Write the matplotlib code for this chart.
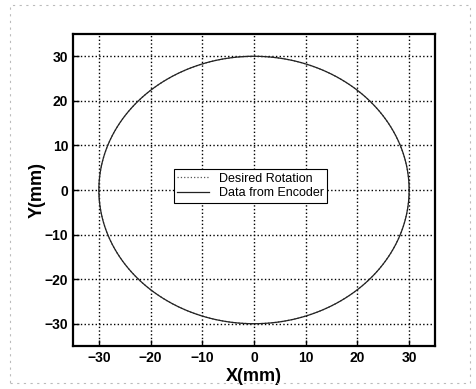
import numpy as np
import matplotlib
matplotlib.use("Agg")
import matplotlib.pyplot as plt
from matplotlib.patches import Rectangle

plt.rcParams['font.family'] = ['Liberation Sans', 'DejaVu Sans']

# Desired rotation: circle of radius 30 mm
desired_angle_deg = list(range(0, 361, 2))
desired_radius = [30.0] * len(desired_angle_deg)

# Encoder data (nearly identical to desired)
encoder_angle_deg = list(range(0, 361, 2))
encoder_radius = [30.0] * len(encoder_angle_deg)

x_ticks = [-30, -20, -10, 0, 10, 20, 30]
y_ticks = [-30, -20, -10, 0, 10, 20, 30]

W, H = 476, 389
fig = plt.figure(figsize=(W / 100, H / 100), dpi=100)
ax = fig.add_axes([73 / W, 1 - 346 / H, (435 - 73) / W, (346 - 34) / H])

da = np.deg2rad(desired_angle_deg)
dr = np.array(desired_radius)
ea = np.deg2rad(encoder_angle_deg)
er = np.array(encoder_radius)

ax.plot(dr * np.cos(da), dr * np.sin(da), linestyle=':', color='#555555', lw=0.9,
        label='Desired Rotation')
ax.plot(er * np.cos(ea), er * np.sin(ea), linestyle='-', color='#222222', lw=0.9,
        label='Data from Encoder')

ax.set_xlim(-35, 35)
ax.set_ylim(-35, 35)
ax.set_xticks(x_ticks)
ax.set_yticks(y_ticks)
ax.grid(True, linestyle=':', color='black', lw=1.0)
for s in ax.spines.values():
    s.set_linewidth(1.6)
ax.tick_params(direction='in', length=4, width=1, labelsize=10)
for lab in ax.get_xticklabels() + ax.get_yticklabels():
    lab.set_fontweight('bold')

ax.set_xlabel('X(mm)', fontsize=13, fontweight='bold', labelpad=2)
ax.set_ylabel('Y(mm)', fontsize=13, fontweight='bold')
ax.yaxis.set_label_coords(-0.075, 0.5)

leg = ax.legend(loc='center', bbox_to_anchor=(0.49, 0.513), fontsize=9,
                frameon=True, fancybox=False, edgecolor='black', framealpha=1,
                handlelength=2.5, borderpad=0.3, labelspacing=0.2)
leg.get_frame().set_linewidth(0.8)

# faint scan border
fig.patches.append(Rectangle((10 / W, 6 / H), (470 - 10) / W, (384 - 6) / H,
                             transform=fig.transFigure, fill=False,
                             edgecolor='#bbbbbb', lw=0.8, linestyle=(0, (2, 4))))

fig.savefig('out.png', dpi=100)
